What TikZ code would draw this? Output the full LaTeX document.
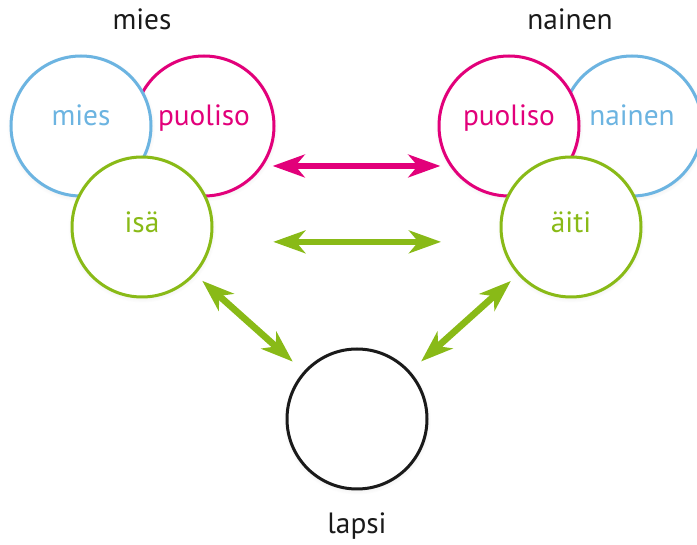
\documentclass[tikz,border=0pt]{standalone}
\usepackage{fontspec}
\setmainfont{PT Sans}
\usepackage{xcolor}
\usepackage{tikz}
\definecolor{miesblue}{HTML}{6CB4E1}
\definecolor{puolisopink}{HTML}{E2007A}
\definecolor{vanhempigreen}{HTML}{89BA17}
\definecolor{lapsiblack}{HTML}{1A1A1A}
\usetikzlibrary{arrows.meta,shadows}
\tikzset{>={Stealth[length=24pt, width=17pt, inset=7pt]},
    person/.style={circle, fill=white, line width=2.25pt, minimum size=105pt, inner sep=0pt,
        circular drop shadow={shadow xshift=0pt, shadow yshift=-1pt, shadow scale=1.06, opacity=0.18}},
    blueperson/.style={person, draw=miesblue, text=miesblue},
    pinkperson/.style={person, draw=puolisopink, text=puolisopink},
    greenperson/.style={person, draw=vanhempigreen, text=vanhempigreen},
    toprow/.style={text height=8pt, text depth=8pt},
    lowrow/.style={text height=12pt, text depth=3pt},
    link/.style={<->, line width=5pt}}

\begin{document}
\begin{tikzpicture}[x=0.75pt, y=-0.75pt, font=\fontsize{22}{26}\selectfont]
    \useasboundingbox (0,0) rectangle (697,545);
    % mies ja isä
    \node[pinkperson, toprow] (puolisoM) at (204,126) {puoliso};
    \node[blueperson, toprow] (mies) at (81,126) {mies};
    \node[greenperson, lowrow] (isa) at (142,227) {isä};
    % nainen ja äiti
    \node[blueperson, toprow] (nainen) at (632,126) {nainen};
    \node[pinkperson, toprow] (puolisoN) at (509,126) {puoliso};
    \node[greenperson, lowrow] (aiti) at (571,227) {äiti};
    % lapsi
    \node[person, draw=lapsiblack] (lapsi) at (357,419) {};
    \node[anchor=base, text=lapsiblack] (miesT) at (142,30) {mies};
    \node[anchor=base, text=lapsiblack] (nainenT) at (570,30) {nainen};
    \node[anchor=base, text=lapsiblack] (lapsiT) at (357,533) {lapsi};
    \draw[link, puolisopink, shorten <=7pt, shorten >=7pt] (puolisoM.-34) -- (puolisoN.214);
    \draw[link, vanhempigreen, shorten <=46pt, shorten >=45pt] (isa.-12) -- (aiti.192);
    \draw[link, vanhempigreen, shorten <=7pt, shorten >=11pt] (isa) -- (lapsi);
    \draw[link, vanhempigreen, shorten <=7pt, shorten >=11pt] (aiti) -- (lapsi);
\end{tikzpicture}
\end{document}
